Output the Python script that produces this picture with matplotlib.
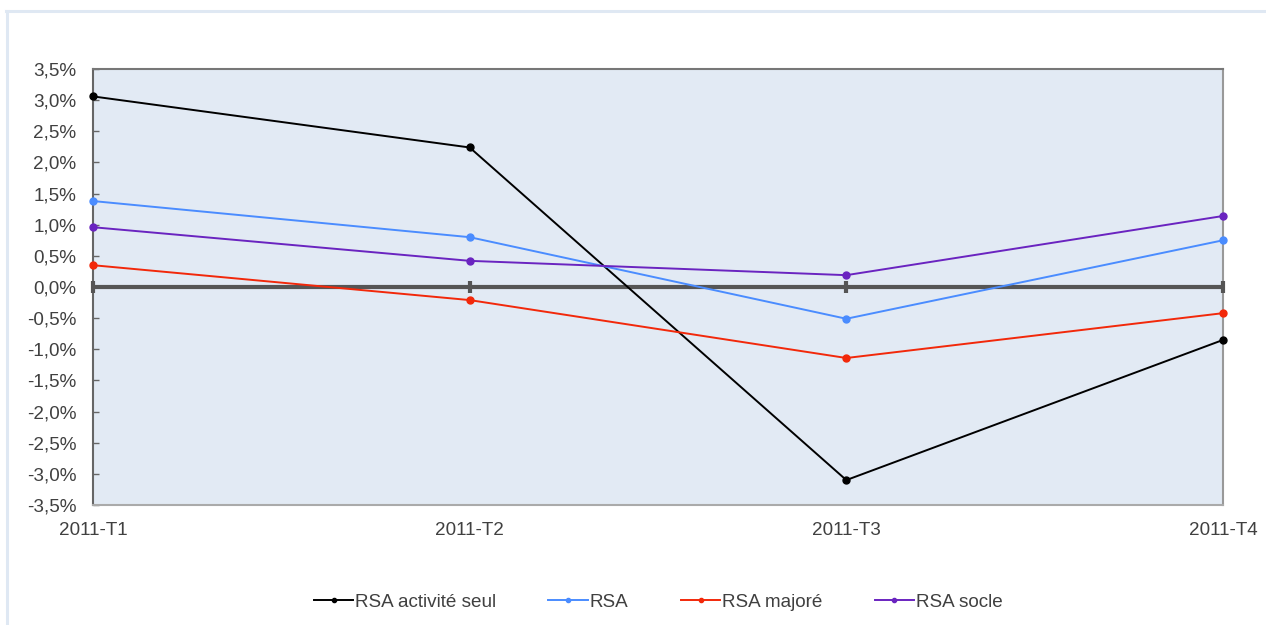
import matplotlib
matplotlib.use("Agg")
import matplotlib.pyplot as plt
from matplotlib.lines import Line2D
from matplotlib.ticker import FuncFormatter, MultipleLocator

categories = ["2011-T1", "2011-T2", "2011-T3", "2011-T4"]
rsa_activite_seul = [3.06, 2.24, -3.10, -0.85]
rsa = [1.38, 0.80, -0.51, 0.75]
rsa_majore = [0.35, -0.21, -1.14, -0.42]
rsa_socle = [0.96, 0.42, 0.19, 1.14]

series = [
    ("RSA activité seul", rsa_activite_seul, "#000000"),
    ("RSA", rsa, "#4a8cff"),
    ("RSA majoré", rsa_majore, "#f2280a"),
    ("RSA socle", rsa_socle, "#6a24c0"),
]

plt.rcParams['font.family'] = ['Liberation Sans', 'DejaVu Sans']
FS = 13.6

W, H = 1266, 625
fig = plt.figure(figsize=(W / 100, H / 100), dpi=100)

# outer light frame
fig.add_artist(Line2D([6 / W, 1.0], [1 - 11 / H, 1 - 11 / H], color="#dfe8f3", lw=2.2, transform=fig.transFigure))
fig.add_artist(Line2D([7 / W, 7 / W], [1 - 11 / H, 0], color="#dfe8f3", lw=2.2, transform=fig.transFigure))

ax = fig.add_axes([93 / W, 1 - 505 / H, (1223 - 93) / W, (505 - 69) / H])
ax.set_facecolor("#e2eaf4")

x = list(range(len(categories)))
for name, vals, col in series:
    ax.plot(x, vals, color=col, lw=1.4, marker="o", markersize=5, label=name, zorder=4, clip_on=False)

ax.set_xlim(0, len(categories) - 1)
ax.set_ylim(-3.5, 3.5)
ax.yaxis.set_major_locator(MultipleLocator(0.5))
ax.yaxis.set_major_formatter(FuncFormatter(lambda v, p: f"{v:.1f}%".replace(".", ",")))
ax.tick_params(axis="y", direction="in", length=4, width=1, color="#666666", labelsize=FS, labelcolor="#404040", pad=12)

# zero axis line with category ticks
ax.axhline(0, color="#555555", lw=3, zorder=3)
for xi in x:
    ax.plot([xi, xi], [-0.1, 0.1], color="#555555", lw=3, zorder=3, solid_capstyle="butt", clip_on=False)

ax.set_xticks(x)
ax.set_xticklabels(categories)
ax.tick_params(axis="x", length=0, labelsize=FS, labelcolor="#404040", pad=12)

ax.spines["left"].set_color("#666666")
ax.spines["top"].set_color("#777777")
ax.spines["right"].set_color("#999999")
ax.spines["bottom"].set_color("#aaaaaa")
for s in ax.spines.values():
    s.set_linewidth(1.5)

handles = [Line2D([0], [0], color=col, lw=1.4, marker="o", markersize=3) for _, _, col in series]
fig.legend(handles, [s[0] for s in series], loc="center", bbox_to_anchor=(0.52, 1 - 602 / H),
           ncol=4, frameon=False, fontsize=FS, handlelength=2.1, handletextpad=0.1, columnspacing=2.75,
           labelcolor="#404040")

fig.savefig("out.png", dpi=100)
